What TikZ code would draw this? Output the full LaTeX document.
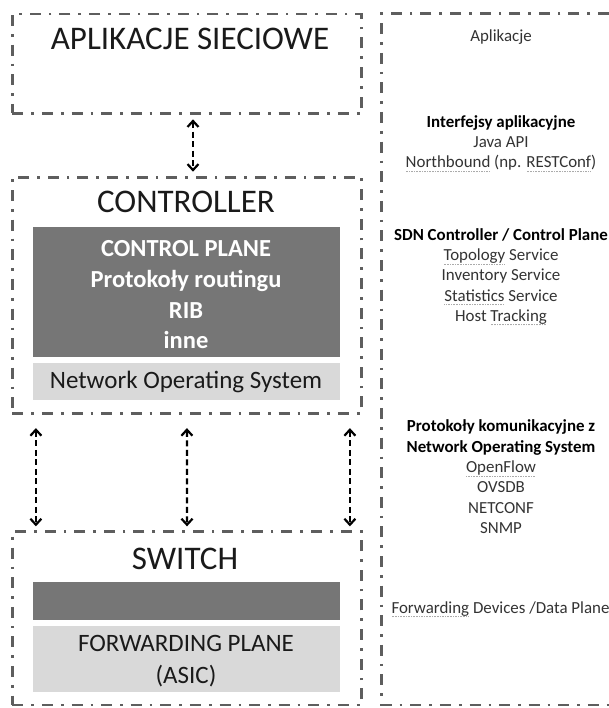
\documentclass[tikz,border=0pt]{standalone}
\usepackage{fontspec}
\setmainfont{Carlito}
\usetikzlibrary{arrows.meta}

\definecolor{framegray}{HTML}{5E5E5E}
\definecolor{planedark}{HTML}{767676}
\definecolor{planelight}{HTML}{D9D9D9}
\definecolor{ink}{HTML}{1A1A1A}
\definecolor{note}{HTML}{333333}
\definecolor{squig}{HTML}{ABABAB}

% dotted grey underline for flagged words
\newsavebox\flagbox
\newcommand\flagword[1]{\sbox\flagbox{#1}%
  \rlap{\raisebox{-0.24em}[0pt][0pt]{\textcolor{squig}{\hbox to \wd\flagbox{\xleaders\hbox{\rule{0.9pt}{0.9pt}\kern0.7pt}\hfill}}}}%
  \usebox\flagbox}

% multi-line nodes below are placed by the baseline of their last line
\tikzset{
  layer/.style={rectangle, draw=framegray, line width=2.6pt,
    dash pattern=on 11pt off 8pt on 2.6pt off 8pt, inner sep=0pt},
  plane/.style={rectangle, inner sep=0pt, minimum width=308pt, draw=white, line width=0.6pt},
  bigtitle/.style={font=\fontsize{33}{40}\selectfont, text=ink, inner sep=0pt, anchor=base},
  planetext/.style={font=\fontsize{24.5}{30.7}\selectfont, inner sep=0pt, align=center, anchor=base},
  sidetext/.style={font=\fontsize{16.9}{20.3}\selectfont, text=note, inner sep=0pt, align=center, anchor=base},
  link/.style={draw=black, line width=2.2pt, dash pattern=on 6pt off 3.5pt,
    {Straight Barb[length=6pt,width=11pt]}-{Straight Barb[length=6pt,width=11pt]}}
}

\begin{document}
\begin{tikzpicture}[x=1pt,y=-1pt]
\useasboundingbox (0,0) rectangle (609,708);
\fill[white] (0,0) rectangle (609,708);

% application layer
\node[layer, minimum width=349.4pt, minimum height=99.3pt] (apps) at (187,63.7) {};
\node[bigtitle] (appsT) at (190,50) {APLIKACJE SIECIOWE};

% controller
\node[layer, minimum width=349.2pt, minimum height=236pt] (ctrl) at (186.9,295.3) {};
\node[bigtitle] (ctrlT) at (186,213) {CONTROLLER};
\node[plane, fill=planedark, minimum height=130.6pt] (cp) at (186,292) {};
\node[planetext, text=white, font=\bfseries\fontsize{24.5}{30.7}\selectfont] (cpT) at (186,348.9)
  {CONTROL PLANE\\Protokoły routingu\\RIB\\inne};
\node[plane, fill=planelight, minimum height=38pt] (nos) at (186,381.3) {};
\node[planetext, text=ink, font=\fontsize{25}{30}\selectfont] (nosT) at (186,388.5) {Network Operating System};

% switch
\node[layer, minimum width=349.4pt, minimum height=173.3pt] (sw) at (187,618.3) {};
\node[bigtitle] (swT) at (185,569) {SWITCH};
\node[plane, fill=planedark, minimum height=38.3pt] (swcp) at (186,600.85) {};
\node[plane, fill=planelight, minimum height=67.7pt] (fp) at (186,658.85) {};
\node[planetext, text=ink, font=\fontsize{25}{31.5}\selectfont] (fpT) at (186,683)
  {FORWARDING PLANE\\(ASIC)};

% connectors between layers
\draw[link, shorten <=4.7pt, shorten >=4.3pt] ([xshift=6pt]apps.south) -- ([xshift=6.1pt]ctrl.north);
\draw[link, shorten <=13.5pt, shorten >=4pt] ([xshift=-151pt]ctrl.south) -- ([xshift=-151.1pt]sw.north);
\draw[link, shorten <=13.5pt, shorten >=4pt] (ctrl.south) -- (sw.north);
\draw[link, shorten <=13.5pt, shorten >=4pt] ([xshift=163pt]ctrl.south) -- ([xshift=162.9pt]sw.north);

% description column
\draw[framegray, line width=2.6pt, dash pattern=on 11pt off 8pt on 2.6pt off 8pt]
  (609,13.7) -- (381.7,13.7) -- (381.7,705) -- (609,705);

\node[sidetext] (dApps) at (501,42) {Aplikacje};
\node[sidetext] (dApi) at (501,168)
  {\textcolor{black}{\bfseries Interfejsy aplikacyjne}\\Java API\\\flagword{Northbound} (np. \flagword{RESTConf})};
\node[sidetext] (dCtrl) at (501,321.3)
  {\textcolor{black}{\bfseries SDN Controller / Control Plane}\\\flagword{Topology} Service\\Inventory Service\\\flagword{Statistics} Service\\Host \flagword{Tracking}};
\node[sidetext] (dProt) at (501,533.3)
  {\textcolor{black}{\bfseries Protokoły komunikacyjne z}\\\textcolor{black}{\bfseries Network Operating System}\\\flagword{OpenFlow}\\OVSDB\\NETCONF\\SNMP};
\node[sidetext] (dData) at (500.5,613) {\flagword{Forwarding} Devices /Data Plane};
\end{tikzpicture}
\end{document}
